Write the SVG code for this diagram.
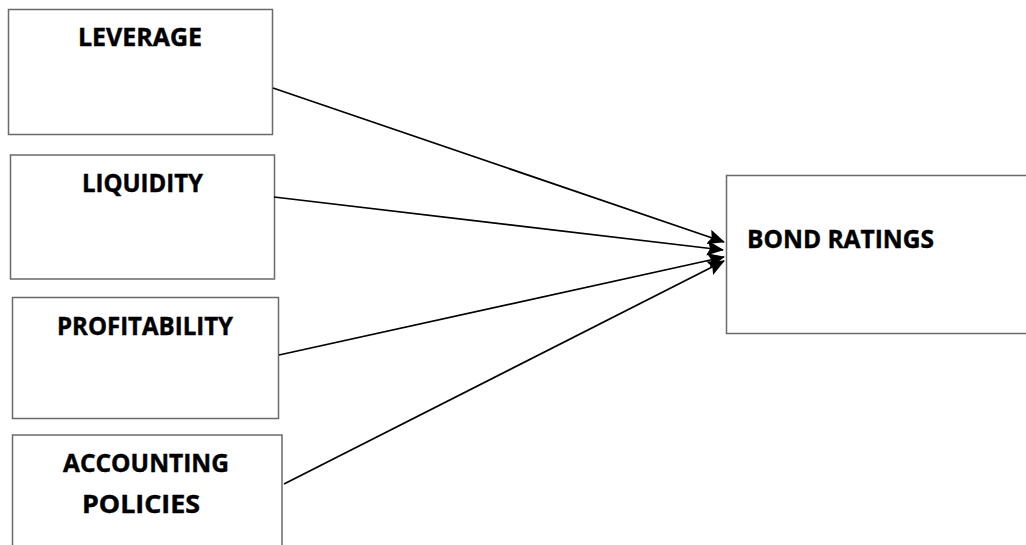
<svg xmlns="http://www.w3.org/2000/svg" width="1026" height="545" viewBox="0 0 1026 545">
  <style>
    .box { fill: #ffffff; stroke: #6a6a6a; stroke-width: 1.5; }
    .label { font-family: "Open Sans", "Liberation Sans", sans-serif; font-weight: bold; font-size: 25.5px; fill: #000000; stroke: #000000; stroke-width: 0.45; }
    .link { stroke: #000000; stroke-width: 1.7; fill: none; marker-end: url(#arrow); }
  </style>
  <defs>
    <marker id="arrow" markerUnits="userSpaceOnUse" markerWidth="17" markerHeight="15" refX="16" refY="7.5" orient="auto">
      <path d="M0,0 L17,7.5 L0,15 L3,7.5 Z" fill="#000000"/>
    </marker>
  </defs>
  <rect width="1026" height="545" fill="#ffffff"/>

  <g id="leverage">
    <rect class="box" x="8.5" y="9.5" width="264" height="125"/>
    <text class="label" x="78" y="46" textLength="124" lengthAdjust="spacingAndGlyphs">LEVERAGE</text>
  </g>

  <g id="liquidity">
    <rect class="box" x="10.5" y="155" width="264" height="124"/>
    <text class="label" x="82" y="192" textLength="121" lengthAdjust="spacingAndGlyphs">LIQUIDITY</text>
  </g>

  <g id="profitability">
    <rect class="box" x="12.5" y="297.5" width="266" height="121"/>
    <text class="label" x="57" y="335" textLength="176" lengthAdjust="spacingAndGlyphs">PROFITABILITY</text>
  </g>

  <g id="accounting-policies">
    <rect class="box" x="12.5" y="435" width="269.5" height="120"/>
    <text class="label" x="63" y="472" textLength="166" lengthAdjust="spacingAndGlyphs">ACCOUNTING</text>
    <text class="label" x="82" y="513" textLength="118" lengthAdjust="spacingAndGlyphs">POLICIES</text>
  </g>

  <g id="bond-ratings">
    <rect class="box" x="726.5" y="175.5" width="320" height="158"/>
    <text class="label" x="747" y="248" textLength="187" lengthAdjust="spacingAndGlyphs">BOND RATINGS</text>
  </g>

  <g id="connectors">
    <line class="link" x1="273" y1="88" x2="724" y2="242"/>
    <line class="link" x1="274" y1="197" x2="723" y2="250"/>
    <line class="link" x1="279" y1="355" x2="724" y2="257"/>
    <line class="link" x1="284" y1="484" x2="724" y2="261"/>
  </g>
</svg>
